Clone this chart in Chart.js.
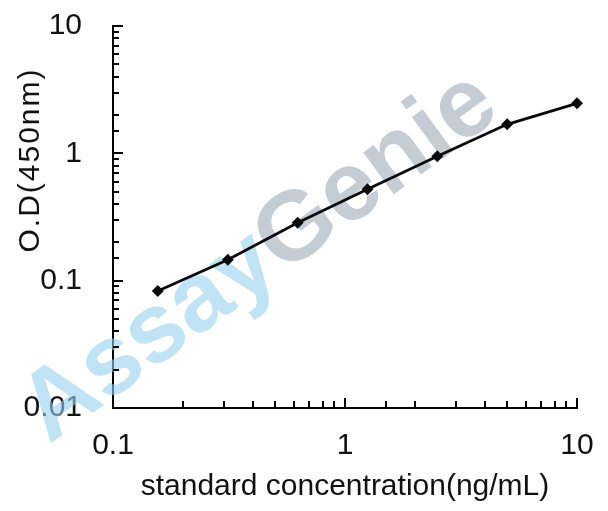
<!DOCTYPE html>
<html>
<head>
<meta charset="utf-8">
<script src="https://cdn.jsdelivr.net/npm/chart.js@4.4.1/dist/chart.umd.min.js"></script>
<style>
  html, body { margin: 0; padding: 0; background: #ffffff; }
  #wrap { width: 608px; height: 511px; }
</style>
</head>
<body>
<div id="wrap"><canvas id="c" width="608" height="511"></canvas></div>
<script>
// ---- data ----
const concentrations = [0.156, 0.3125, 0.625, 1.25, 2.5, 5, 10];
const odValues = [0.083, 0.146, 0.285, 0.522, 0.947, 1.69, 2.47];
const xTickLabels = ['0.1', '1', '10'];
const yTickLabels = ['0.01', '0.1', '1', '10'];
const xTitle = 'standard concentration(ng/mL)';
const yTitle = 'O.D(450nm)';
const watermarkParts = ['Assay', 'Genie'];

const FONT = "'Liberation Sans', Arial, sans-serif";

function isPow10(v) {
  const l = Math.log10(v);
  return Math.abs(l - Math.round(l)) < 1e-9;
}
function fmt(v) {
  return String(+v.toPrecision(6));
}

const watermarkPlugin = {
  id: 'watermark',
  beforeDatasetsDraw(chart) {
    const ctx = chart.ctx;
    ctx.save();
    ctx.translate(260, 258);
    ctx.rotate(-36 * Math.PI / 180);
    ctx.font = "bold 98px " + FONT;
    ctx.textBaseline = 'middle';
    const w0 = ctx.measureText(watermarkParts[0]).width;
    const w1 = ctx.measureText(watermarkParts[1]).width;
    const start = -(w0 + w1) / 2;
    ctx.textAlign = 'left';
    ctx.fillStyle = 'rgba(150, 210, 238, 0.6)';
    ctx.fillText(watermarkParts[0], start, 0);
    ctx.fillStyle = 'rgba(150, 162, 176, 0.55)';
    ctx.fillText(watermarkParts[1], start + w0, 0);
    ctx.restore();
  }
};

const ticksPlugin = {
  id: 'inwardTicks',
  afterDraw(chart) {
    const ctx = chart.ctx;
    const xs = chart.scales.x, ys = chart.scales.y;
    const area = chart.chartArea;
    ctx.save();
    ctx.strokeStyle = '#000';
    ctx.lineWidth = 2;
    ctx.beginPath();
    xs.ticks.forEach(t => {
      const px = Math.round(xs.getPixelForValue(t.value));
      const len = isPow10(t.value) ? 10 : 7;
      ctx.moveTo(px, area.bottom);
      ctx.lineTo(px, area.bottom - len);
    });
    ys.ticks.forEach(t => {
      const py = Math.round(ys.getPixelForValue(t.value));
      const len = isPow10(t.value) ? 10 : 6;
      ctx.moveTo(area.left, py);
      ctx.lineTo(area.left + len, py);
    });
    ctx.stroke();
    // y axis title
    ctx.fillStyle = '#111';
    ctx.font = "30px " + FONT;
    try { ctx.letterSpacing = '2px'; } catch (e) {}
    ctx.textAlign = 'center';
    ctx.textBaseline = 'middle';
    ctx.translate(31, 160);
    ctx.rotate(-Math.PI / 2);
    ctx.fillText(yTitle, 0, 0);
    ctx.restore();
  }
};

new Chart(document.getElementById('c'), {
  type: 'line',
  data: {
    datasets: [{
      data: concentrations.map((c, i) => ({ x: c, y: odValues[i] })),
      borderColor: '#0a0a0a',
      backgroundColor: '#0a0a0a',
      borderWidth: 2.8,
      pointStyle: 'rectRot',
      pointRadius: 4,
      pointHoverRadius: 4,
      tension: 0,
      fill: false,
      clip: false
    }]
  },
  options: {
    responsive: false,
    devicePixelRatio: 1,
    animation: false,
    events: [],
    layout: { padding: { top: 26, right: 31, left: 0, bottom: 0 } },
    plugins: { legend: { display: false }, tooltip: { enabled: false } },
    scales: {
      x: {
        type: 'logarithmic',
        min: 0.1, max: 10,
        afterFit(scale) { scale.height = 103; scale.paddingLeft = 0; scale.paddingRight = 0; },
        grid: { display: false, drawTicks: false },
        border: { display: true, color: '#000', width: 2 },
        ticks: {
          autoSkip: false, maxRotation: 0, minRotation: 0,
          padding: 20,
          color: '#111',
          font: { family: FONT, size: 30 },
          callback(v) { const s = fmt(v); return xTickLabels.includes(s) ? s : ''; }
        },
        title: {
          display: true, text: xTitle, color: '#111',
          font: { family: FONT, size: 30 },
          padding: { top: 0, bottom: 6 }
        }
      },
      y: {
        type: 'logarithmic',
        min: 0.01, max: 10,
        afterFit(scale) { scale.width = 113; scale.paddingTop = 0; scale.paddingBottom = 0; },
        grid: { display: false, drawTicks: false },
        border: { display: true, color: '#000', width: 2 },
        ticks: {
          autoSkip: false,
          padding: 31,
          color: '#111',
          font: { family: FONT, size: 30 },
          callback(v) { const s = fmt(v); return yTickLabels.includes(s) ? s : ''; }
        }
      }
    }
  },
  plugins: [watermarkPlugin, ticksPlugin]
});
</script>
</body>
</html>
